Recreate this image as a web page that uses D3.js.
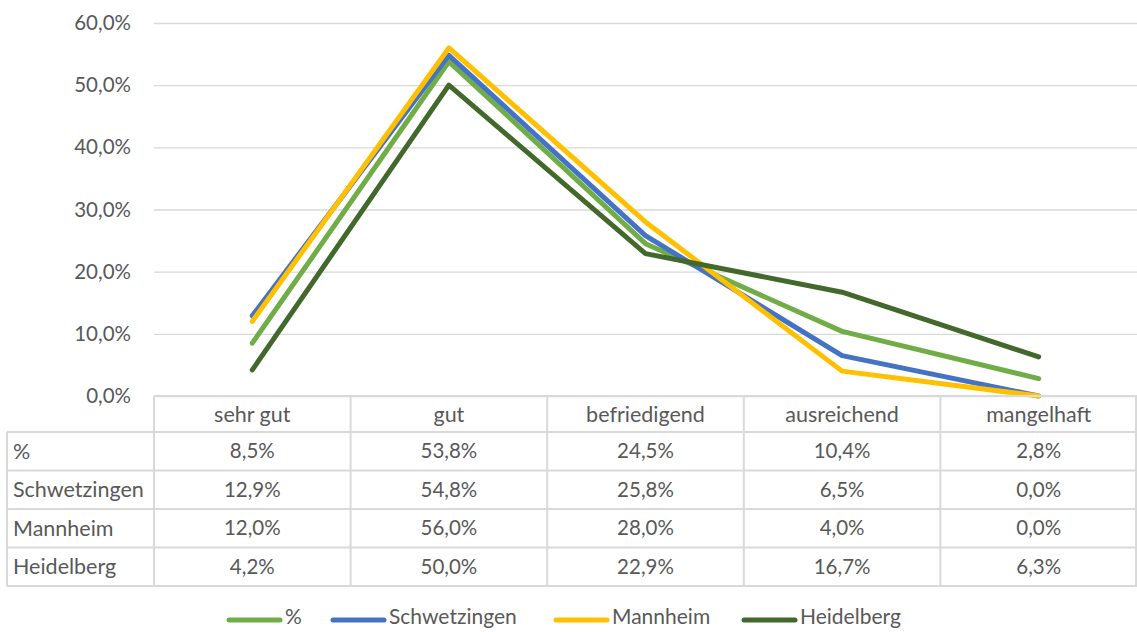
<!DOCTYPE html>
<html>
<head>
<meta charset="utf-8">
<script src="https://cdn.jsdelivr.net/npm/d3@7"></script>
<style>
  body { margin: 0; background: #fff; }
  svg { display: block; font-family: Lato, "Open Sans", sans-serif; }
</style>
</head>
<body>
<svg id="chart" width="1137" height="632"></svg>
<script>
const categories = ['sehr gut', 'gut', 'befriedigend', 'ausreichend', 'mangelhaft']
const seriesNames = ['%', 'Schwetzingen', 'Mannheim', 'Heidelberg']
const seriesColors = ['#70ad47', '#4472c4', '#ffc000', '#43682b']
const valuesPercent = [8.5, 53.8, 24.5, 10.4, 2.8]
const valuesSchwetzingen = [12.9, 54.8, 25.8, 6.5, 0.0]
const valuesMannheim = [12.0, 56.0, 28.0, 4.0, 0.0]
const valuesHeidelberg = [4.2, 50.0, 22.9, 16.7, 6.3]
const yTicks = [0, 10, 20, 30, 40, 50, 60]

const series = [valuesPercent, valuesSchwetzingen, valuesMannheim, valuesHeidelberg]
  .map((values, i) => ({name: seriesNames[i], color: seriesColors[i], values}))

const margins = {left: 154, right: 0, top: 23, plotBottom: 396}
const width = 1137
const textColor = '#595959'
const gridColor = '#d9d9d9'
const fontSize = 20.5
const labelSize = 21.5
const fmt = v => v.toFixed(1).replace('.', ',') + '%'

const svg = d3.select('#chart')

const xScale = d3.scaleBand()
  .domain(categories)
  .range([margins.left, width - margins.right])

const yScale = d3.scaleLinear()
  .domain([0, 60])
  .range([margins.plotBottom, margins.top])

// gridlines + y labels
const yAxis = d3.axisLeft(yScale)
  .tickValues(yTicks)
  .tickSize(-(width - margins.left - margins.right))
  .tickPadding(23)
  .tickFormat(fmt)

svg.append('g')
  .attr('transform', `translate(${margins.left},0)`)
  .call(yAxis)
  .call(g => g.select('.domain').remove())
  .call(g => g.selectAll('line').attr('stroke', gridColor).attr('stroke-width', 1.3))
  .call(g => g.selectAll('text')
    .attr('fill', textColor)
    .attr('font-family', 'Lato, sans-serif')
    .attr('font-size', fontSize))

// lines
const line = d3.line()
  .x((d, i) => xScale(categories[i]) + xScale.bandwidth() / 2)
  .y(d => yScale(d))

svg.append('g')
  .selectAll('path')
  .data(series)
  .join('path')
  .attr('d', d => line(d.values))
  .attr('fill', 'none')
  .attr('stroke', d => d.color)
  .attr('stroke-width', 5)
  .attr('stroke-linejoin', 'round')
  .attr('stroke-linecap', 'round')

// data table
const headerTop = margins.plotBottom
const headerH = 36
const rowH = 38.5
const tableLeft = 7
const rowsBottom = headerTop + headerH + rowH * series.length
const table = svg.append('g')
  .attr('stroke', gridColor)
  .attr('stroke-width', 2)

// horizontal lines
table.append('line')
  .attr('x1', margins.left).attr('x2', width)
  .attr('y1', headerTop).attr('y2', headerTop)
table.selectAll('line.row')
  .data(d3.range(series.length + 1))
  .join('line')
  .attr('class', 'row')
  .attr('x1', tableLeft).attr('x2', width)
  .attr('y1', i => headerTop + headerH + i * rowH)
  .attr('y2', i => headerTop + headerH + i * rowH)

// vertical lines
table.selectAll('line.col')
  .data(categories)
  .join('line')
  .attr('class', 'col')
  .attr('x1', d => xScale(d)).attr('x2', d => xScale(d))
  .attr('y1', headerTop).attr('y2', rowsBottom)
table.append('line')
  .attr('x1', tableLeft).attr('x2', tableLeft)
  .attr('y1', headerTop + headerH).attr('y2', rowsBottom)
table.append('line')
  .attr('x1', width - 1).attr('x2', width - 1)
  .attr('y1', headerTop).attr('y2', rowsBottom)

const texts = svg.append('g')
  .attr('fill', textColor)
  .attr('font-size', fontSize)

texts.selectAll('text.cat')
  .data(categories)
  .join('text')
  .attr('class', 'cat')
  .attr('x', d => xScale(d) + xScale.bandwidth() / 2)
  .attr('y', headerTop + headerH / 2)
  .attr('dy', '0.35em')
  .attr('text-anchor', 'middle')
  .attr('font-size', labelSize)
  .text(d => d)

texts.selectAll('text.name')
  .data(series)
  .join('text')
  .attr('class', 'name')
  .attr('x', tableLeft + 6)
  .attr('y', (d, i) => headerTop + headerH + i * rowH + rowH / 2)
  .attr('dy', '0.35em')
  .attr('font-size', labelSize)
  .text(d => d.name)

series.forEach((s, i) => {
  texts.append('g')
    .selectAll('text')
    .data(s.values)
    .join('text')
    .attr('x', (d, j) => xScale(categories[j]) + xScale.bandwidth() / 2)
    .attr('y', headerTop + headerH + i * rowH + rowH / 2)
    .attr('dy', '0.35em')
    .attr('text-anchor', 'middle')
    .text(d => fmt(d))
})

// legend (kept just inside the bottom edge)
const legendX = [226, 330, 553, 741]
const legend = svg.append('g')
  .attr('transform', 'translate(0,617)')
  .selectAll('g')
  .data(series)
  .join('g')
  .attr('transform', (d, i) => `translate(${legendX[i]},0)`)

legend.append('line')
  .attr('x1', 3).attr('x2', 54)
  .attr('y1', 3).attr('y2', 3)
  .attr('stroke', d => d.color)
  .attr('stroke-width', 5)
  .attr('stroke-linecap', 'round')

legend.append('text')
  .attr('x', 59)
  .attr('dy', '0.33em')
  .attr('fill', textColor)
  .attr('font-size', 21)
  .text(d => d.name)
</script>
</body>
</html>
